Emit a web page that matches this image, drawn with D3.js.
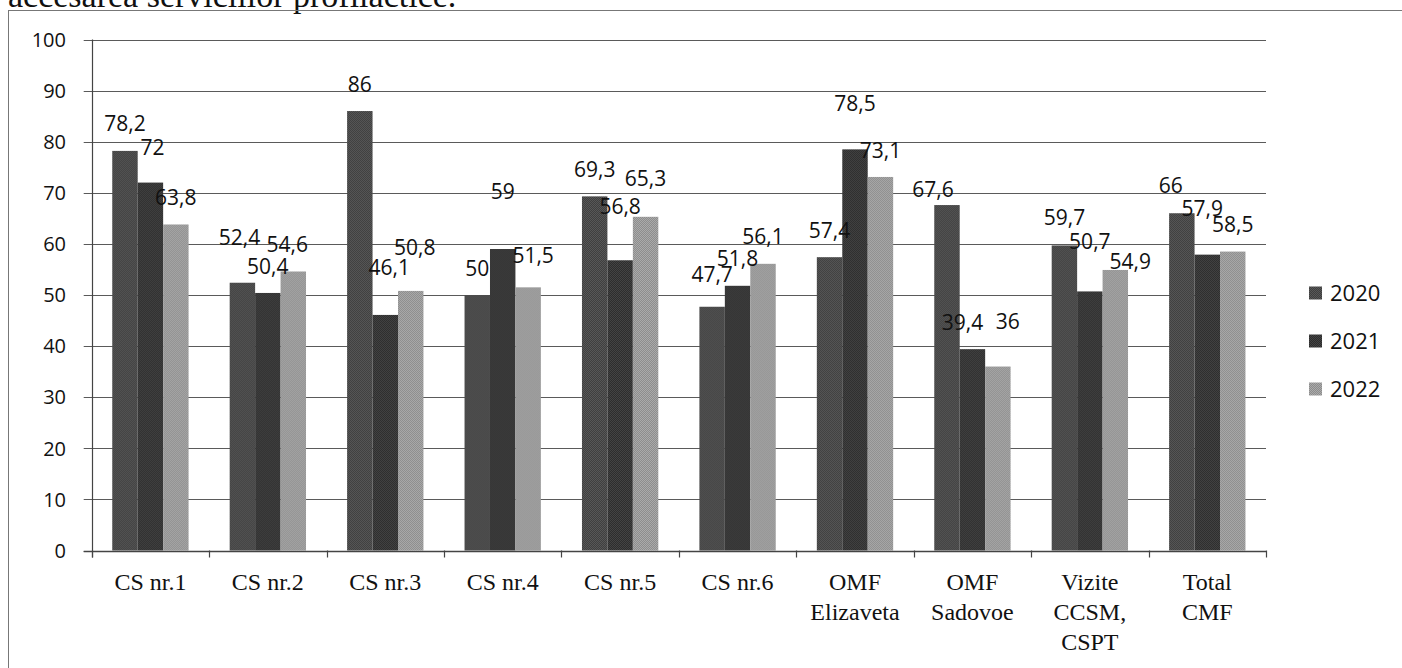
<!DOCTYPE html>
<html>
<head>
<meta charset="utf-8">
<script src="https://cdn.jsdelivr.net/npm/d3@7"></script>
<style>
  body { margin: 0; background: #fff; }
  svg { display: block; }
</style>
</head>
<body>
<div id="chart"></div>
<script>
// Data
const categories = ["CS nr.1", "CS nr.2", "CS nr.3", "CS nr.4", "CS nr.5", "CS nr.6",
    "OMF Elizaveta", "OMF Sadovoe", "Vizite CCSM, CSPT", "Total CMF"];
const categoryLines = [["CS nr.1"], ["CS nr.2"], ["CS nr.3"], ["CS nr.4"], ["CS nr.5"], ["CS nr.6"],
    ["OMF", "Elizaveta"], ["OMF", "Sadovoe"], ["Vizite", "CCSM,", "CSPT"], ["Total", "CMF"]];
const years = ["2020", "2021", "2022"];
const values2020 = [78.2, 52.4, 86, 50, 69.3, 47.7, 57.4, 67.6, 59.7, 66];
const values2021 = [72, 50.4, 46.1, 59, 56.8, 51.8, 78.5, 39.4, 50.7, 57.9];
const values2022 = [63.8, 54.6, 50.8, 51.5, 65.3, 56.1, 73.1, 36, 54.9, 58.5];
const yTicks = [0, 10, 20, 30, 40, 50, 60, 70, 80, 90, 100];

// manual label nudges [dx, dy] in px, as moved by hand in the original
const nudge2020 = [[0,0],[-3,-18],[0,0],[0,0],[0,0],[0,-5],[0,0],[-14,11],[0,-1],[-11,-1]];
const nudge2021 = [[2,-8],[0,0],[4,-20],[0,-31],[0,-27],[0,0],[0,-19],[-10,0],[0,-23],[-5,-19]];
const nudge2022 = [[0,0],[-6,0],[4,-16],[5,-5],[0,-11],[0,0],[0,0],[10,-18],[15,18],[0,0]];

const seriesValues = [values2020, values2021, values2022];
const seriesNudge = [nudge2020, nudge2021, nudge2022];

const W = 1402, H = 668;
const svg = d3.select("#chart").append("svg")
    .attr("width", W)
    .attr("height", H);

// dithered fills, like the scanned halftone
const defs = svg.append("defs");
const dither = [["#3e3e3e", "#585858"], ["#2c2c2c", "#444444"], ["#8c8c8c", "#ababab"]];
dither.forEach(function(pair, i) {
    const p = defs.append("pattern")
        .attr("id", "fill" + i)
        .attr("width", 2).attr("height", 2)
        .attr("patternUnits", "userSpaceOnUse");
    p.append("rect").attr("width", 2).attr("height", 2).attr("fill", pair[0]);
    p.append("rect").attr("width", 1).attr("height", 1).attr("fill", pair[1]);
    p.append("rect").attr("x", 1).attr("y", 1).attr("width", 1).attr("height", 1).attr("fill", pair[1]);
});

// text of the page above the chart, cut off by the crop
svg.append("text")
    .attr("x", 8)
    .attr("y", 7)
    .style("font-family", "'Liberation Serif', 'Times New Roman', serif")
    .style("font-size", "34px")
    .style("fill", "#111")
    .text("accesarea serviciilor profilactice.");

// chart frame
svg.append("rect")
    .attr("x", 8.5)
    .attr("y", 10.5)
    .attr("width", W)
    .attr("height", H)
    .attr("fill", "none")
    .attr("stroke", "#777")
    .attr("stroke-width", 1);

// Scales
const x = d3.scaleBand()
    .domain(categories)
    .range([91.7, 1266])
    .paddingInner(0.35)
    .paddingOuter(0.175);

const xs = d3.scaleBand()
    .domain(years)
    .range([0, x.bandwidth()]);

const y = d3.scaleLinear()
    .domain([0, 100])
    .range([550.5, 39.5]);

const step = x.step();
const x0 = x.range()[0], x1 = x.range()[1];

// Gridlines with left ticks
svg.append("g")
    .selectAll("line")
    .data(yTicks)
    .join("line")
        .attr("x1", x0 - 8)
        .attr("x2", x1)
        .attr("y1", d => Math.round(y(d)) + 0.5)
        .attr("y2", d => Math.round(y(d)) + 0.5)
        .attr("stroke", "#5a5a5a")
        .attr("stroke-width", 1.2);

// Y labels
svg.append("g")
    .selectAll("text")
    .data(yTicks)
    .join("text")
        .attr("x", 66)
        .attr("y", d => y(d))
        .attr("dy", "0.36em")
        .attr("text-anchor", "end")
        .style("font-family", "'Open Sans', sans-serif")
        .style("font-size", "20px")
        .style("fill", "#111")
        .text(d => d);

// Bars
const groups = svg.append("g")
    .selectAll("g")
    .data(categories)
    .join("g")
        .attr("transform", d => `translate(${x(d)},0)`);

groups.selectAll("rect")
    .data((d, i) => years.map((yr, k) => ({year: yr, k: k, value: seriesValues[k][i]})))
    .join("rect")
        .attr("x", d => xs(d.year))
        .attr("y", d => y(d.value))
        .attr("width", xs.bandwidth())
        .attr("height", d => y(0) - y(d.value))
        .attr("fill", d => `url(#fill${d.k})`);

// Axes lines
svg.append("line")
    .attr("x1", Math.round(x0) + 0.5).attr("x2", Math.round(x0) + 0.5)
    .attr("y1", y(100)).attr("y2", y(0) + 7)
    .attr("stroke", "#444").attr("stroke-width", 1.2);

svg.append("line")
    .attr("x1", x0 - 8).attr("x2", x1)
    .attr("y1", Math.round(y(0)) + 0.5).attr("y2", Math.round(y(0)) + 0.5)
    .attr("stroke", "#444").attr("stroke-width", 1.5);

// Category boundary ticks
svg.append("g")
    .selectAll("line")
    .data(d3.range(categories.length + 1))
    .join("line")
        .attr("x1", i => Math.round(x0 + i * step) + 0.5)
        .attr("x2", i => Math.round(x0 + i * step) + 0.5)
        .attr("y1", y(0))
        .attr("y2", y(0) + 7)
        .attr("stroke", "#444")
        .attr("stroke-width", 1.2);

// Category labels
const catLabels = svg.append("g")
    .selectAll("text")
    .data(categories)
    .join("text")
        .attr("x", d => x(d) + x.bandwidth() / 2)
        .attr("y", 590)
        .attr("text-anchor", "middle")
        .style("font-family", "'Liberation Serif', 'Times New Roman', serif")
        .style("font-size", "24px")
        .style("fill", "#111");

catLabels.each(function(d, i) {
    const t = d3.select(this);
    categoryLines[i].forEach(function(line, j) {
        t.append("tspan")
            .attr("x", x(d) + x.bandwidth() / 2)
            .attr("dy", j === 0 ? 0 : 30)
            .text(line);
    });
});

// Data labels
const fmt = d => String(d).replace(".", ",");
groups.selectAll("text")
    .data((d, i) => years.map((yr, k) => ({year: yr, k: k, value: seriesValues[k][i], nudge: seriesNudge[k][i]})))
    .join("text")
        .attr("x", d => xs(d.year) + xs.bandwidth() / 2 + d.nudge[0])
        .attr("y", d => y(d.value) - 27 + d.nudge[1])
        .attr("dy", "0.36em")
        .attr("text-anchor", "middle")
        .style("font-family", "'Open Sans', sans-serif")
        .style("font-size", "21px")
        .style("fill", "#111")
        .text(d => fmt(d.value));

// Legend
const legend = svg.append("g")
    .selectAll("g")
    .data(years)
    .join("g")
        .attr("transform", (d, i) => `translate(1309, ${293 + i * 48})`);

legend.append("rect")
    .attr("x", 0)
    .attr("y", -6.5)
    .attr("width", 13)
    .attr("height", 13)
    .attr("fill", (d, i) => `url(#fill${i})`);

legend.append("text")
    .attr("x", 21)
    .attr("y", 0)
    .attr("dy", "0.36em")
    .style("font-family", "'Open Sans', sans-serif")
    .style("font-size", "22px")
    .style("fill", "#111")
    .text(d => d);
</script>
</body>
</html>
